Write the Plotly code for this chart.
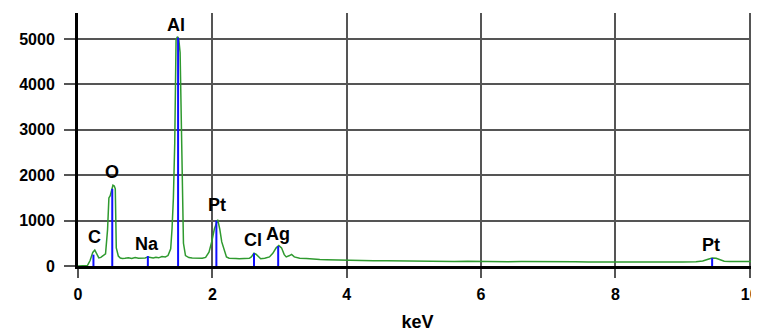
import plotly.graph_objects as go

# Spectrum (keV, counts)
energy = [0.00, 0.10, 0.14, 0.18, 0.22, 0.25, 0.28, 0.31, 0.34, 0.38, 0.41, 0.44, 0.46, 0.48,
          0.50, 0.52, 0.54, 0.555, 0.57, 0.60, 0.63, 0.66, 0.70, 0.75, 0.80, 0.85, 0.90, 0.95,
          1.00, 1.04, 1.08, 1.12, 1.16, 1.20, 1.25, 1.30, 1.34, 1.38, 1.40, 1.42, 1.44, 1.45,
          1.46, 1.48, 1.50, 1.52, 1.535, 1.545, 1.555, 1.57, 1.60, 1.65, 1.70, 1.75, 1.80,
          1.85, 1.90, 1.95, 1.99, 2.03, 2.08, 2.11, 2.14, 2.18, 2.21, 2.25, 2.30, 2.35, 2.40,
          2.45, 2.50, 2.55, 2.58, 2.62, 2.65, 2.69, 2.72, 2.78, 2.85, 2.90, 2.95, 2.99, 3.03,
          3.07, 3.10, 3.15, 3.18, 3.22, 3.30, 3.40, 3.50, 3.60, 3.70, 3.80, 3.90, 4.00, 4.20,
          4.40, 4.60, 4.80, 5.00, 5.20, 5.40, 5.60, 5.80, 6.00, 6.20, 6.40, 6.60, 6.80, 7.00,
          7.20, 7.40, 7.60, 7.80, 8.00, 8.20, 8.40, 8.60, 8.80, 9.00, 9.20, 9.30, 9.38, 9.44,
          9.50, 9.56, 9.62, 9.70, 9.80, 9.90, 10.00, 10.12]
counts = [0, 0, 10, 120, 300, 350, 280, 180, 190, 230, 270, 800, 1500, 1550,
          1700, 1780, 1760, 1700, 400, 220, 175, 165, 170, 180, 165, 185, 170, 180,
          175, 200, 180, 175, 190, 180, 210, 200, 230, 380, 820, 1500, 2700, 3700,
          4990, 5050, 5000, 4700, 3500, 2000, 1040, 500, 230, 185, 175, 170, 175,
          170, 190, 305, 530, 815, 1020, 815, 530, 305, 200, 170, 160, 165, 160,
          165, 160, 170, 200, 280, 260, 190, 160, 170, 200, 280, 400, 450, 400,
          250, 200, 230, 255, 200, 170, 165, 150, 145, 140, 135, 130, 125, 120,
          118, 115, 110, 112, 105, 108, 100, 104, 98, 100, 95, 97, 92, 95,
          90, 93, 90, 88, 92, 88, 90, 87, 90, 88, 95, 110, 150, 175,
          170, 130, 105, 98, 100, 95, 100, 98]

# Element markers
elements = ["C", "O", "Na", "Al", "Pt", "Cl", "Ag", "Pt"]
line_kev = [0.23, 0.51, 1.04, 1.49, 2.06, 2.62, 2.98, 9.44]
line_height = [250, 1700, 220, 5030, 1000, 280, 440, 175]
label_x = [0.24, 0.51, 1.02, 1.46, 2.07, 2.61, 2.97, 9.43]
label_y = [640, 2076, 488, 5306, 1340, 569, 707, 471]

x_ticks = [0, 2, 4, 6, 8, 10]
y_ticks = [0, 1000, 2000, 3000, 4000, 5000]

bx, by = [], []
for e, h in zip(line_kev, line_height):
    bx += [e, e, None]
    by += [0, h, None]

fig = go.Figure()
fig.add_trace(go.Scatter(x=energy, y=counts, mode="lines",
                         line=dict(color="#2f9a2f", width=1.5), hoverinfo="skip"))
fig.add_trace(go.Scatter(x=bx, y=by, mode="lines",
                         line=dict(color="#1010ff", width=2), hoverinfo="skip"))

for t, xx, yy in zip(elements, label_x, label_y):
    fig.add_annotation(x=xx, y=yy, text=t, showarrow=False, xanchor="center", yanchor="middle",
                       font=dict(family="Liberation Sans", size=18, color="black", weight="bold"))

axis_common = dict(showgrid=True, gridcolor="#555555", gridwidth=2, showline=True,
                   linecolor="black", linewidth=3, ticks="outside", tickwidth=2,
                   tickcolor="#555555", zeroline=False, ticklabeloverflow="allow",
                   tickfont=dict(family="Liberation Sans", size=16, color="black", weight="bold"))

fig.update_xaxes(range=[0, 10.108], tickvals=x_ticks, ticklen=9, ticklabelstandoff=3,
                 title=dict(text="keV", standoff=14,
                            font=dict(family="Liberation Sans", size=18, color="black", weight="bold")),
                 **axis_common)
fig.update_yaxes(range=[0, 5573], tickvals=y_ticks, ticklen=11, ticklabelstandoff=6,
                 **axis_common)

# page body has an 8px margin, so the figure is offset by 8px
fig.update_layout(width=751, height=326, margin=dict(l=70, r=0, t=5, b=68),
                  plot_bgcolor="white", paper_bgcolor="white", showlegend=False)

fig.write_html("out.html")
